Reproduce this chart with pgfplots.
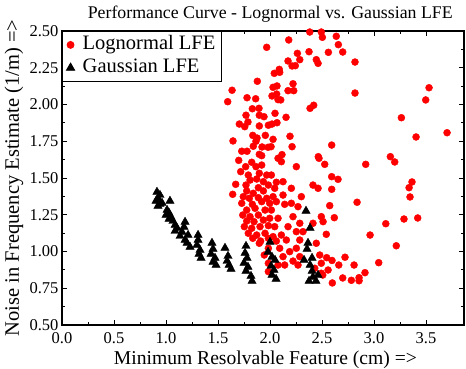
\documentclass[border=0pt]{standalone}
\usepackage{pgfplots}
\pgfplotsset{compat=1.18}
\usepackage{fontspec}
\setmainfont{Liberation Serif}
\newcommand{\legfont}{\fontsize{20.5}{22}\selectfont}
\begin{document}
\begin{tikzpicture}
\useasboundingbox (-62pt,-44pt) rectangle (404pt,325pt);
\begin{axis}[
  scale only axis, width=402pt, height=294pt,
  xmin=0, xmax=3.865, ymin=0.5, ymax=2.5,
  xtick={0,0.5,...,3.5}, ytick={0.5,0.75,...,2.5},
  minor x tick num=1, minor y tick num=1,
  tick align=inside, major tick length=5pt, minor tick length=3pt,
  xtick pos=both, ytick pos=both,
  axis line style={line width=1.2pt}, tick style={line width=0.8pt, black},
  /pgf/number format/assume math mode=true,
  xticklabel style={/pgf/number format/.cd, fixed, fixed zerofill, precision=1, /tikz/.cd, yshift=-4pt},
  yticklabel style={/pgf/number format/.cd, fixed, fixed zerofill, precision=2},
  tick label style={font=\fontsize{16.5}{18}\selectfont},
  xlabel={Minimum Resolvable Feature (cm) =>},
  ylabel={Noise in Frequency Estimate (1/m) =>},
  xlabel style={font=\fontsize{19.6}{22}\selectfont, at={(axis description cs:0.506,-0.1327)}, anchor=base},
  ylabel style={font=\fontsize{20.5}{22}\selectfont, at={(axis description cs:-0.107,0.5)}, anchor=base},
  title={Performance Curve - Lognormal vs. Gaussian LFE},
  title style={font=\fontsize{17.8}{19}\selectfont, at={(axis description cs:0.518,1.022)}, anchor=base},
  legend style={at={(0,1)}, anchor=north west, draw=black, line width=0.8pt, font=\legfont, inner xsep=4pt, inner ysep=2pt, row sep=0pt, nodes={inner xsep=2pt, inner ysep=2.5pt, text height=14pt, text depth=4pt}, /tikz/every odd column/.append style={column sep=6pt}, cells={anchor=west}},
  legend cell align=left,
]
\addplot[only marks, mark=*, mark size=3.5pt, color=red] coordinates {
(2.382,2.493) (2.493,2.493) (2.503,2.457) (2.637,2.464) (2.657,2.407) (2.180,2.439) (1.968,2.389) (2.263,2.348) (2.375,2.359) (2.561,2.355) (2.699,2.357) (2.173,2.296) (2.286,2.305) (2.445,2.305) (2.462,2.280) (2.212,2.262) (2.243,2.264) (2.817,2.289) (2.041,2.212) (2.089,2.239) (2.093,2.219) (1.878,2.158) (2.029,2.117) (2.067,2.126) (2.221,2.141) (2.173,2.094) (2.228,2.094) (1.635,2.097) (2.817,2.078) (3.529,2.114) (1.593,2.019) (1.779,2.046) (1.862,2.039) (2.019,2.058) (2.064,2.071) (2.077,2.033) (2.103,2.031) (3.497,2.031) (1.830,1.971) (1.894,1.974) (2.385,1.974) (2.420,1.995) (1.769,1.927) (1.897,1.927) (1.942,1.917) (2.048,1.940) (2.154,1.913) (3.263,1.910) (1.705,1.867) (1.757,1.849) (1.788,1.881) (1.897,1.854) (1.984,1.859) (2.019,1.867) (2.067,1.876) (1.834,1.790) (1.875,1.772) (1.955,1.790) (2.192,1.784) (2.029,1.763) (3.404,1.779) (3.702,1.808) (1.644,1.752) (1.839,1.716) (1.865,1.750) (1.923,1.711) (1.981,1.709) (2.010,1.713) (2.212,1.713) (2.593,1.724) (1.728,1.682) (1.779,1.682) (1.897,1.661) (2.115,1.659) (2.464,1.645) (3.157,1.645) (3.199,1.609) (2.920,1.593)
(1.699,1.620) (1.824,1.607) (1.920,1.652) (1.766,1.577) (1.865,1.577) (1.920,1.588) (1.718,1.543) (1.791,1.520) (1.897,1.532) (1.968,1.520) (1.808,1.486) (1.872,1.493) (1.936,1.475) (1.670,1.457) (1.769,1.452) (1.888,1.434) (1.984,1.452) (1.776,1.412) (1.839,1.396) (1.936,1.412) (1.641,1.389) (1.743,1.373) (1.801,1.362) (1.888,1.366) (1.968,1.362) (1.728,1.328) (1.830,1.321) (1.920,1.339) (1.776,1.282) (1.856,1.294) (1.952,1.282) (1.738,1.248) (1.808,1.237) (1.888,1.248) (1.846,1.203) (1.776,1.207) (1.936,1.214) (1.753,1.169) (1.824,1.158) (1.904,1.169) (1.984,1.176) (1.791,1.124) (1.872,1.112) (1.952,1.124) (1.834,1.090) (1.910,1.071) (1.984,1.090) (1.897,1.056) (1.984,1.022) (1.945,0.976) (1.984,0.920) (1.984,0.863)
(2.077,1.634) (2.109,1.611) (2.253,1.577) (2.471,1.634) (2.526,1.593) (2.593,1.509) (2.654,1.491) (2.013,1.520) (2.061,1.471) (2.125,1.475) (2.205,1.430) (2.045,1.430) (2.413,1.452) (2.462,1.430) (2.593,1.423) (2.029,1.373) (2.125,1.384) (2.301,1.373) (1.997,1.328) (2.061,1.339) (2.141,1.321) (2.205,1.328) (2.269,1.305) (2.574,1.312) (2.013,1.282) (2.221,1.237) (2.493,1.237) (2.618,1.230) (1.997,1.226) (2.077,1.226) (2.286,1.192) (2.413,1.192) (2.510,1.203) (2.045,1.169) (2.173,1.169) (2.253,1.135) (2.109,1.112) (2.317,1.135) (2.541,1.117) (2.029,1.101) (2.061,1.071) (2.157,1.078) (2.286,1.078) (2.445,1.056) (2.093,1.022) (2.253,1.022) (2.189,0.999) (2.125,0.965) (2.286,0.965) (2.478,0.976) (2.221,0.935) (2.141,0.908) (2.269,0.908) (2.493,0.920) (2.077,0.908) (2.430,0.886) (2.493,0.852) (2.558,0.874)
(3.365,1.473) (3.337,1.434) (3.346,1.371) (2.837,1.335) (3.288,1.221) (3.420,1.228) (3.113,1.189) (2.962,1.112) (3.214,1.039) (2.596,0.939) (2.721,0.961) (2.661,0.908) (2.808,0.908) (3.045,0.924) (2.913,0.856) (2.699,0.820) (2.782,0.804) (2.856,0.822) (2.856,0.801) (2.599,0.786) (2.545,0.958) (2.507,0.840)
};
\addlegendentry{\legfont Lognormal LFE}
\addplot[only marks, mark=triangle*, mark size=4.8pt, color=black] coordinates {
(0.913,1.405) (0.942,1.384) (0.923,1.364) (0.904,1.344) (0.942,1.323) (0.923,1.310) (0.962,1.330) (1.038,1.344) (1.010,1.282) (1.029,1.262) (1.000,1.248) (1.048,1.235) (1.029,1.221) (1.067,1.207) (1.087,1.180) (1.106,1.160) (1.087,1.139) (1.183,1.201) (1.173,1.167) (1.154,1.133) (1.135,1.105) (1.212,1.112) (1.183,1.078) (1.202,1.058) (1.231,1.031) (1.308,1.112) (1.308,1.078) (1.298,1.044) (1.327,1.010) (1.317,0.983) (1.337,0.956) (1.442,1.058) (1.452,1.017) (1.433,0.983) (1.471,0.956) (1.452,0.929) (1.481,0.908) (1.567,1.024) (1.596,0.969) (1.587,0.935) (1.606,0.908) (1.625,0.881) (1.769,1.037) (1.760,0.990) (1.779,0.956) (1.750,0.922) (1.788,0.895) (1.769,0.867) (1.817,0.833) (1.827,0.799) (2.000,1.065) (1.981,0.997) (2.019,0.963) (2.048,0.942) (2.010,0.901) (2.038,0.874) (2.019,0.840) (2.058,0.813) (2.346,1.276) (2.385,1.160) (2.365,1.058) (2.356,1.017) (2.327,0.942) (2.404,0.956) (2.385,0.908) (2.404,0.867) (2.413,0.827) (2.462,0.840) (2.375,0.799) (2.442,0.799)
};
\addlegendentry{\legfont Gaussian LFE}
\end{axis}
\end{tikzpicture}
\end{document}
